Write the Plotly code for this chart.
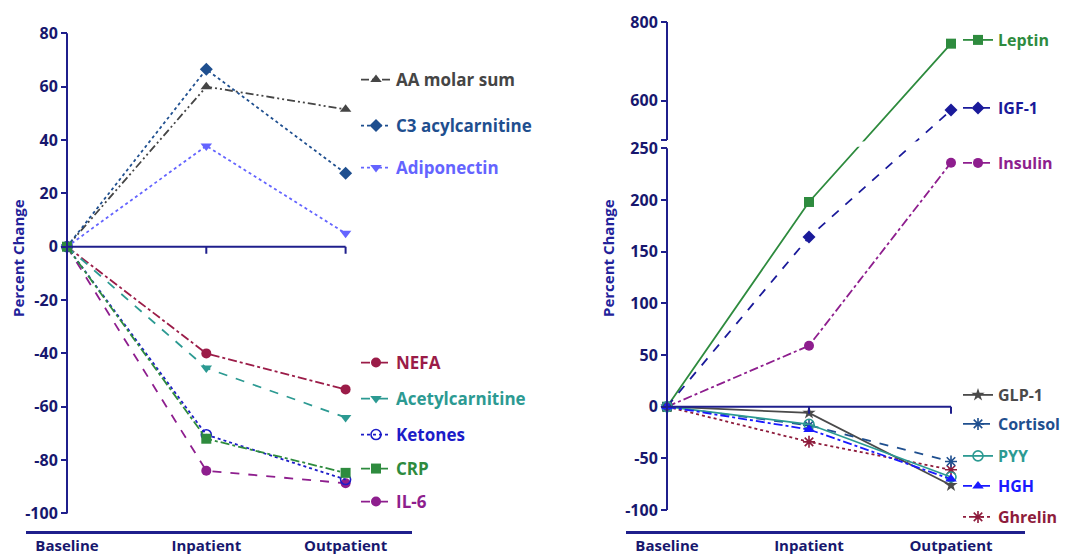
import plotly.graph_objects as go

# ---------------- data ----------------
categories = ["Baseline", "Inpatient", "Outpatient"]

# left panel (percent change)
aa_molar_sum = [0, 60.0, 51.5]
c3_acylcarnitine = [0, 66.5, 27.5]
adiponectin = [0, 37.8, 5.0]
nefa = [0, -40.0, -53.5]
acetylcarnitine = [0, -45.5, -64.0]
ketones = [0, -70.5, -87.3]
crp = [0, -72.0, -84.8]
il6 = [0, -84.0, -88.7]

# right panel (percent change)
leptin = [0, 198, 745]
igf1 = [0, 164, 576]
insulin = [0, 59, 236]
glp1 = [0, -6, -76]
cortisol = [0, -18, -53]
pyy = [0, -17, -68]
hgh = [0, -22, -70]
ghrelin = [0, -34, -61]

left_ticks = [-100, -80, -60, -40, -20, 0, 20, 40, 60, 80]
right_lower_ticks = [-100, -50, 0, 50, 100, 150, 200, 250]
right_upper_ticks = [600, 800]

# ---------------- styling / layout constants ----------------
W, H = 1069, 557
OFF = 8  # default page body margin
FIG_W, FIG_H = W - OFF, H - OFF
FONT = "Open Sans"
NAVY = "#1f1f8c"
TICKNAVY = "#17176e"

# broken axis (right panel)
BREAK_LO, BREAK_HI, GAP, UPPER_SCALE = 250, 500, 8, 0.38


def brk(v):
    return v if v <= BREAK_LO else BREAK_LO + GAP + (v - BREAK_HI) * UPPER_SCALE


def px_x(p):
    return (p - OFF) / FIG_W


def px_y(p):
    return 1 - (p - OFF) / FIG_H


# left panel pixel geometry
L_XDOM = (26, 412); L_BASE = 67; L_STEP = 139.3
L_ZERO = 246.7; L_PPU = 2.667; L_TOP = 28; L_BOT = 530.5
# right panel pixel geometry
R_XDOM = (626, 1025); R_BASE = 667; R_STEP = 142.0
R_ZERO = 406.7; R_PPU = 1.034; R_TOP = 14; R_BOT = 530.5

l_xrange = [(L_XDOM[0] - L_BASE) / L_STEP, (L_XDOM[1] - L_BASE) / L_STEP]
l_yrange = [(L_ZERO - L_BOT) / L_PPU, (L_ZERO - L_TOP) / L_PPU]
r_xrange = [(R_XDOM[0] - R_BASE) / R_STEP, (R_XDOM[1] - R_BASE) / R_STEP]
r_yrange = [(R_ZERO - R_BOT) / R_PPU, (R_ZERO - R_TOP) / R_PPU]

xs = list(range(len(categories)))

# series specs: (name, values, panel, color, dash, symbol, legend text x px, legend y px)
series = [
    ("AA molar sum", aa_molar_sum, "L", "#454545", "8px,3px,2px,3px,2px,3px", "triangle-up", 398, 80),
    ("C3 acylcarnitine", c3_acylcarnitine, "L", "#1f4f8f", "dot", "diamond", 398, 126),
    ("Adiponectin", adiponectin, "L", "#6464ff", "dot", "triangle-down", 398, 168),
    ("NEFA", nefa, "L", "#9b1c48", "dashdot", "circle", 398, 363),
    ("Acetylcarnitine", acetylcarnitine, "L", "#2c9a92", "dash", "triangle-down", 398, 399),
    ("IL-6", il6, "L", "#8e1e8e", "dash", "circle", 398, 502),
    ("Ketones", ketones, "L", "#1c1cc8", "dot", "circle-open", 398, 435),
    ("CRP", crp, "L", "#2e8b3e", "dashdot", "square", 398, 469),
    ("Leptin", leptin, "R", "#2e8b3e", "solid", "square", 1000, 40),
    ("IGF-1", igf1, "R", "#1a1a9a", "dash", "diamond", 1000, 108),
    ("Insulin", insulin, "R", "#8e1e8e", "dashdot", "circle", 1000, 163),
    ("Ghrelin", ghrelin, "R", "#8e1c3c", "dot", "asterisk-open", 1000, 517),
    ("GLP-1", glp1, "R", "#4a4a4a", "solid", "star", 1000, 395),
    ("Cortisol", cortisol, "R", "#1f4f8f", "dash", "asterisk-open", 1000, 424),
    ("PYY", pyy, "R", "#2c9a92", "solid", "circle-open", 1000, 456),
    ("HGH", hgh, "R", "#1a1aff", "dashdot", "triangle-up", 1000, 486),
]

legend_order = ["AA molar sum", "C3 acylcarnitine", "Adiponectin", "NEFA", "Acetylcarnitine",
                "Ketones", "CRP", "IL-6", "Leptin", "IGF-1", "Insulin", "GLP-1", "Cortisol",
                "PYY", "HGH", "Ghrelin"]

fig = go.Figure()
layout_legends = {}
for i, (name, vals, panel, color, dash, symbol, lx, ly) in enumerate(series):
    idx = legend_order.index(name) + 1
    lid = "legend" if idx == 1 else f"legend{idx}"
    if panel == "L":
        yv = vals
        xa, ya = "x", "y"
    else:
        yv = [brk(v) for v in vals]
        xa, ya = "x2", "y2"
    is_open = symbol.endswith("open")
    fig.add_trace(go.Scatter(
        x=xs, y=yv, name=name, mode="lines+markers", xaxis=xa, yaxis=ya,
        line=dict(color=color, width=1.8, dash=dash),
        marker=dict(symbol=symbol, size=10, color=color,
                    line=dict(color=color, width=1.6 if is_open else 0)),
        cliponaxis=False, legend=lid, showlegend=True,
    ))
    layout_legends[lid] = dict(
        x=px_x(lx - 42), y=px_y(ly), xanchor="left", yanchor="middle",
        bgcolor="rgba(0,0,0,0)", borderwidth=0,
        font=dict(family=FONT, size=17 if panel == "L" else 16, color=color, weight="bold"),
        itemwidth=30,
    )

axis_common = dict(showgrid=False, zeroline=False)

fig.update_layout(
    width=FIG_W, height=FIG_H,
    margin=dict(l=0, r=0, t=0, b=0, autoexpand=False),
    paper_bgcolor="white", plot_bgcolor="white",
    font=dict(family=FONT, color=TICKNAVY),
    xaxis=dict(domain=[px_x(L_XDOM[0]), px_x(L_XDOM[1])], range=l_xrange, anchor="y",
               showline=True, linecolor=NAVY, linewidth=2.5,
               tickvals=xs, ticktext=categories, ticks="", ticklen=0,
               tickfont=dict(family=FONT, size=15, color=TICKNAVY, weight="bold"), **axis_common),
    yaxis=dict(domain=[px_y(L_BOT), px_y(L_TOP)], range=l_yrange, anchor="free",
               position=px_x(L_BASE), showline=False,
               tickvals=left_ticks, ticktext=[str(t) for t in left_ticks],
               ticks="outside", ticklen=6, tickwidth=2, tickcolor=NAVY,
               tickfont=dict(family=FONT, size=16, color=TICKNAVY, weight="bold"), **axis_common),
    xaxis2=dict(domain=[px_x(R_XDOM[0]), px_x(R_XDOM[1])], range=r_xrange, anchor="y2",
                showline=True, linecolor=NAVY, linewidth=2.5,
                tickvals=xs, ticktext=categories, ticks="", ticklen=0,
                tickfont=dict(family=FONT, size=15, color=TICKNAVY, weight="bold"), **axis_common),
    yaxis2=dict(domain=[px_y(R_BOT), px_y(R_TOP)], range=r_yrange, anchor="free",
                position=px_x(R_BASE), showline=False,
                tickvals=[brk(t) for t in right_lower_ticks] + [brk(BREAK_HI)] + [brk(t) for t in right_upper_ticks],
                ticktext=[str(t) for t in right_lower_ticks] + [""] + [str(t) for t in right_upper_ticks],
                ticks="outside", ticklen=6, tickwidth=2, tickcolor=NAVY,
                tickfont=dict(family=FONT, size=16, color=TICKNAVY, weight="bold"), **axis_common),
    **layout_legends,
)

shapes = []
# left panel: y axis line, zero line with downward ticks
shapes.append(dict(type="line", xref="x", yref="y", x0=0, x1=0, y0=left_ticks[0], y1=left_ticks[-1],
                   line=dict(color=NAVY, width=2)))
shapes.append(dict(type="line", xref="x", yref="y", x0=0, x1=xs[-1], y0=0, y1=0,
                   line=dict(color=NAVY, width=2)))
for xv in xs[1:]:
    shapes.append(dict(type="line", xref="x", yref="y", x0=xv, x1=xv, ysizemode="pixel", yanchor=0,
                       y0=0, y1=-7, line=dict(color=NAVY, width=2)))
# right panel: broken gap, broken y axis, zero line
shapes.append(dict(type="rect", xref="x2", yref="y2", x0=xs[1], x1=xs[2],
                   y0=BREAK_LO + 1.5, y1=BREAK_LO + GAP - 1.5,
                   fillcolor="white", line=dict(width=0), layer="above"))
shapes.append(dict(type="line", xref="x2", yref="y2", x0=0, x1=0, y0=brk(right_lower_ticks[0]),
                   y1=brk(right_lower_ticks[-1]), line=dict(color=NAVY, width=2)))
shapes.append(dict(type="line", xref="x2", yref="y2", x0=0, x1=0, y0=brk(BREAK_HI),
                   y1=brk(right_upper_ticks[-1]), line=dict(color=NAVY, width=2)))
shapes.append(dict(type="line", xref="x2", yref="y2", x0=0, x1=xs[-1], y0=0, y1=0,
                   line=dict(color=NAVY, width=2)))
for xv in xs[1:]:
    shapes.append(dict(type="line", xref="x2", yref="y2", x0=xv, x1=xv, ysizemode="pixel", yanchor=0,
                       y0=0, y1=-7, line=dict(color=NAVY, width=2)))
fig.update_layout(shapes=shapes)

for xp in (18, 608):
    fig.add_annotation(text="Percent Change", xref="paper", yref="paper", x=px_x(xp), y=px_y(258),
                       textangle=-90, showarrow=False, xanchor="center", yanchor="middle",
                       font=dict(family=FONT, size=15, color="#22229a", weight="bold"))

fig.write_html("out.html")
